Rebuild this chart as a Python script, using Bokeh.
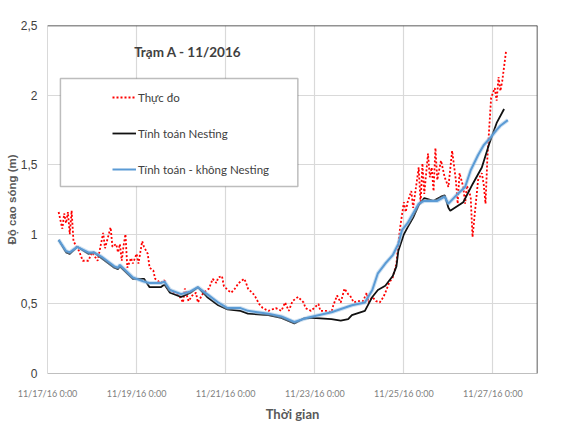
import pandas as pd
from bokeh.plotting import figure
from bokeh.models import Range1d, FixedTicker, Legend, LegendItem, BoxAnnotation, Span, Label
from bokeh.embed import file_html
from bokeh.resources import INLINE

START = "2016-11-17 00:00"

# Thực đo (measured) – hours after start, wave height (m)
meas_hours = [6, 8, 9, 10, 11, 12, 13, 14, 17, 19, 22, 24, 25, 27, 30, 31, 34, 35, 37, 38,
              39, 40, 41, 42, 43, 45, 46, 48, 49, 51, 52, 54, 55, 57, 58, 61, 63, 64, 68, 71,
              73, 74, 76, 78, 80, 81, 84, 87, 89, 91, 92, 94, 95, 97, 99, 101, 103, 106, 107, 108,
              111, 112, 114, 116, 119, 123, 126, 128, 130, 132, 134, 135, 138, 139, 142, 146, 147, 150, 153, 154,
              156, 158, 160, 162, 163, 165, 167, 170, 172, 173, 175, 177, 179, 181, 182, 184, 186, 188, 189, 190,
              192, 193, 194, 196, 197, 200, 201, 202, 203, 205, 206, 207, 208, 209, 210, 212, 214, 216, 218, 220,
              221, 222, 224, 225, 226, 228, 229, 230, 232, 234, 235, 236, 237, 239, 241, 242, 243, 244, 245, 247]
meas_values = [1.16, 1.04, 1.15, 1.08, 1.16, 1.00, 1.17, 0.95, 0.88, 0.81, 0.81, 0.87, 0.85, 0.81, 1.01, 0.90, 1.05, 0.91, 0.93, 0.87,
               0.93, 0.81, 0.92, 1.00, 0.76, 0.83, 0.79, 0.86, 0.79, 0.95, 0.91, 0.86, 0.76, 0.74, 0.68, 0.65, 0.67, 0.62, 0.58, 0.56,
               0.51, 0.61, 0.52, 0.56, 0.58, 0.51, 0.58, 0.61, 0.68, 0.65, 0.69, 0.70, 0.63, 0.60, 0.58, 0.61, 0.65, 0.68, 0.65, 0.61,
               0.57, 0.55, 0.50, 0.47, 0.45, 0.47, 0.45, 0.51, 0.45, 0.52, 0.54, 0.55, 0.51, 0.47, 0.45, 0.50, 0.45, 0.45, 0.44, 0.49,
               0.56, 0.51, 0.61, 0.57, 0.56, 0.51, 0.52, 0.52, 0.58, 0.51, 0.55, 0.52, 0.51, 0.55, 0.58, 0.65, 0.69, 0.79, 0.93, 1.05,
               1.23, 1.16, 1.23, 1.31, 1.19, 1.48, 1.22, 1.51, 1.29, 1.58, 1.41, 1.48, 1.31, 1.62, 1.39, 1.53, 1.41, 1.34, 1.60, 1.39,
               1.22, 1.44, 1.34, 1.22, 1.35, 1.27, 0.98, 1.12, 1.39, 1.44, 1.36, 1.22, 1.55, 1.98, 2.05, 1.96, 2.13, 2.03, 2.10, 2.31]

# Tính toán Nesting
nest_hours = [6, 10, 12, 16, 22, 25, 29, 36, 38, 39, 46, 52, 55, 61, 63, 66, 72, 77, 81, 86,
              92, 97, 104, 108, 119, 126, 133, 138, 143, 153, 158, 162, 164, 171, 175, 178, 182, 186, 188, 189,
              192, 194, 197, 200, 203, 208, 212, 214, 216, 217, 224, 229, 234, 238, 242, 246]
nest_values = [0.96, 0.87, 0.86, 0.91, 0.86, 0.87, 0.83, 0.76, 0.75, 0.77, 0.68, 0.68, 0.62, 0.62, 0.64, 0.58, 0.55, 0.58, 0.62, 0.55,
               0.49, 0.46, 0.45, 0.43, 0.42, 0.40, 0.36, 0.395, 0.40, 0.39, 0.38, 0.39, 0.42, 0.45, 0.55, 0.60, 0.63, 0.70, 0.77, 0.88,
               1.00, 1.05, 1.12, 1.21, 1.26, 1.24, 1.27, 1.28, 1.19, 1.17, 1.23, 1.36, 1.48, 1.65, 1.80, 1.90]

# Tính toán - không Nesting
nonest_hours = [6, 10, 12, 16, 22, 25, 29, 36, 38, 39, 46, 52, 55, 61, 63, 66, 72, 77, 81, 86,
                92, 97, 104, 108, 119, 126, 133, 140, 153, 164, 171, 175, 178, 182, 186, 189, 191, 194, 197, 200,
                203, 210, 214, 216, 221, 225, 228, 232, 235, 239, 242, 244, 248]
nonest_values = [0.96, 0.88, 0.87, 0.91, 0.87, 0.87, 0.84, 0.77, 0.76, 0.78, 0.69, 0.66, 0.65, 0.65, 0.66, 0.60, 0.57, 0.59, 0.62, 0.57,
                 0.51, 0.47, 0.47, 0.45, 0.43, 0.41, 0.37, 0.40, 0.44, 0.49, 0.51, 0.60, 0.72, 0.79, 0.85, 0.93, 1.03, 1.08, 1.15, 1.22,
                 1.24, 1.24, 1.27, 1.22, 1.29, 1.34, 1.46, 1.57, 1.64, 1.70, 1.75, 1.78, 1.82]

series_names = ["Thực đo", "Tính toán Nesting", "Tính toán - không Nesting"]
chart_title = "Trạm A - 11/2016"
x_title = "Thời gian"
y_title = "Độ cao sóng (m)"

y_ticks = [0, 0.5, 1, 1.5, 2, 2.5]
y_tick_labels = ["0", "0,5", "1", "1,5", "2", "2,5"]
x_tick_dates = ["2016-11-17", "2016-11-19", "2016-11-21", "2016-11-23", "2016-11-25", "2016-11-27"]
x_tick_labels = ["11/17/16 0:00", "11/19/16 0:00", "11/21/16 0:00", "11/23/16 0:00", "11/25/16 0:00", "11/27/16 0:00"]

NARROW = "Lato"
ARIAL = "Liberation Sans"

t0 = pd.Timestamp(START)
t_end = t0 + pd.Timedelta(days=11)


def to_time(hours):
    return [t0 + pd.Timedelta(hours=h) for h in hours]


def ms(ts):
    return pd.Timestamp(ts).value // 10**6


p = figure(width=549, height=424, x_axis_type="datetime", output_backend="svg", toolbar_location=None,
           x_range=Range1d(t0, t_end), y_range=Range1d(0, 2.5),
           min_border_left=47, min_border_top=25, min_border_right=12, min_border_bottom=51)
p.outline_line_color = None
p.background_fill_color = "white"
p.border_fill_color = "white"

# axes
x_tick_ms = [ms(d) for d in x_tick_dates]
p.xaxis.ticker = FixedTicker(ticks=x_tick_ms)
p.xaxis.major_label_overrides = {float(t): lab for t, lab in zip(x_tick_ms, x_tick_labels)}
p.yaxis.ticker = FixedTicker(ticks=y_ticks)
p.yaxis.major_label_overrides = {float(t): lab for t, lab in zip(y_ticks, y_tick_labels)}

for ax in (p.xaxis[0], p.yaxis[0]):
    ax.major_tick_line_color = None
    ax.minor_tick_line_color = None
    ax.major_tick_out = 0
    ax.major_tick_in = 0
    ax.axis_label_text_font_style = "bold"
    ax.axis_label_text_color = "#595959"

p.xaxis.axis_line_color = "#BFBFBF"
p.xaxis.major_label_text_font = NARROW
p.xaxis.major_label_text_font_size = "9px"
p.xaxis.major_label_text_color = "#808080"
p.xaxis.major_label_standoff = 14
p.xaxis.axis_label = x_title
p.xaxis.axis_label_text_font = NARROW
p.xaxis.axis_label_text_font_size = "13px"
p.xaxis.axis_label_standoff = 4

p.yaxis.axis_line_color = "#D9D9D9"
p.yaxis.major_label_text_font = ARIAL
p.yaxis.major_label_text_font_size = "12px"
p.yaxis.major_label_text_color = "#404040"
p.yaxis.major_label_standoff = 10
p.yaxis.axis_label = y_title
p.yaxis.axis_label_text_font = ARIAL
p.yaxis.axis_label_text_font_size = "11.5px"
p.yaxis.axis_label_standoff = 0

p.xgrid.grid_line_color = "#D9D9D9"
p.ygrid.grid_line_color = "#D9D9D9"
p.xgrid.grid_line_width = 1.2
p.ygrid.grid_line_width = 1.2

# frame top and right edges
p.add_layout(Span(location=2.5, dimension="width", line_color="#262626", line_width=1.5))
p.add_layout(Span(location=ms(t_end), dimension="height", line_color="#262626", line_width=1.5))

# series
r_meas = p.line(to_time(meas_hours), meas_values, line_color="#FF0000", line_width=1.8, line_dash="2 2")
r_nest = p.line(to_time(nest_hours), nest_values, line_color="#111111", line_width=1.8)
p.line(to_time(nonest_hours), nonest_values, line_color="#9DC3E6", line_width=4, line_alpha=0.5)
r_nonest = p.line(to_time(nonest_hours), nonest_values, line_color="#5B9BD5", line_width=2)

# title inside plot
p.add_layout(Label(x=ms(t0 + pd.Timedelta(days=3.15)), y=2.31, text=chart_title,
                   text_align="center", text_baseline="middle", text_font=NARROW,
                   text_font_style="bold", text_font_size="13.5px", text_color="#404040"))

# legend box
p.add_layout(BoxAnnotation(left=ms(t0 + pd.Timedelta(days=0.29)), right=ms(t0 + pd.Timedelta(days=5.62)),
                           bottom=1.343, top=2.12, fill_color="white", fill_alpha=1,
                           line_color="#262626", line_width=1.5))

legend = Legend(items=[LegendItem(label=series_names[0], renderers=[r_meas]),
                       LegendItem(label=series_names[1], renderers=[r_nest]),
                       LegendItem(label=series_names[2], renderers=[r_nonest])],
                location=(65, 194), background_fill_alpha=0, border_line_color=None,
                padding=0, spacing=16, label_height=20, glyph_height=20, glyph_width=24,
                label_standoff=2, label_text_font=NARROW, label_text_font_size="11.5px",
                label_text_color="#404040")
p.add_layout(legend)

open("out.html", "w").write(file_html(p, INLINE))
